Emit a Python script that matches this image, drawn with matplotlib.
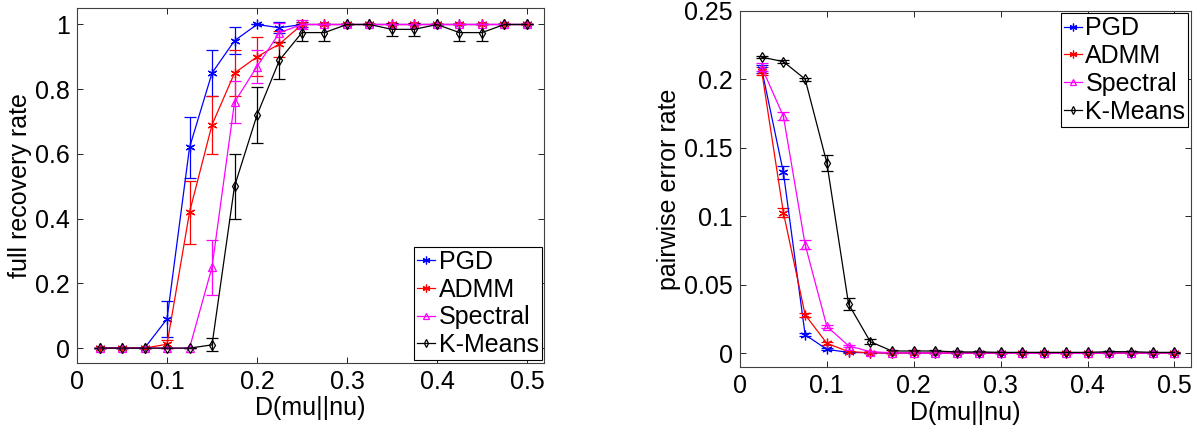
import matplotlib
matplotlib.use('Agg')
import matplotlib.pyplot as plt
from matplotlib.ticker import FuncFormatter

plt.rcParams['font.family'] = ['Liberation Sans', 'DejaVu Sans']

# distance values (x axis)
dist = [0.025, 0.05, 0.075, 0.1, 0.125, 0.15, 0.175, 0.2, 0.225, 0.25,
        0.275, 0.3, 0.325, 0.35, 0.375, 0.4, 0.425, 0.45, 0.475, 0.5]
methods = ['PGD', 'ADMM', 'Spectral', 'K-Means']

# full recovery rate (left)
rec_pgd = [0, 0, 0, 0.09, 0.62, 0.85, 0.95, 1.0, 0.99, 1, 1, 1, 1, 1, 1, 1, 1, 1, 1, 1]
rec_pgd_err = [0, 0, 0, 0.055, 0.095, 0.07, 0.042, 0, 0.017, 0.008, 0, 0, 0, 0, 0, 0, 0, 0, 0, 0]
rec_admm = [0, 0, 0, 0.012, 0.42, 0.69, 0.85, 0.90, 0.94, 1, 1, 1, 1, 1, 1, 1, 1, 1, 1, 1]
rec_admm_err = [0, 0, 0, 0.012, 0.097, 0.09, 0.07, 0.06, 0.04, 0, 0, 0, 0, 0, 0, 0, 0, 0, 0, 0]
rec_spec = [0, 0, 0, 0, 0, 0.25, 0.76, 0.87, 0.975, 1, 1, 1, 1, 1, 1, 1, 1, 1, 1, 1]
rec_spec_err = [0, 0, 0, 0, 0, 0.085, 0.065, 0.05, 0.03, 0.015, 0, 0, 0, 0, 0, 0, 0, 0, 0, 0]
rec_km = [0, 0, 0, 0, 0, 0.01, 0.50, 0.72, 0.89, 0.975, 0.975, 1, 1, 0.985, 0.985, 1, 0.975, 0.975, 1, 1]
rec_km_err = [0, 0, 0, 0, 0, 0.02, 0.1, 0.087, 0.057, 0.026, 0.026, 0, 0, 0.02, 0.02, 0, 0.025, 0.025, 0, 0]

# pairwise error rate (right)
err_pgd = [0.2075, 0.132, 0.0134, 0.0027, 0.0005, 0.0002, 0, 0, 0, 0, 0, 0, 0, 0, 0, 0, 0, 0, 0, 0]
err_pgd_err = [0.003, 0.005, 0.0012, 0.0008, 0.0003, 0, 0, 0, 0, 0, 0, 0, 0, 0, 0, 0, 0, 0, 0, 0]
err_admm = [0.206, 0.1027, 0.028, 0.0071, 0.001, 0.0002, 0, 0, 0, 0, 0, 0, 0, 0, 0, 0, 0, 0, 0, 0]
err_admm_err = [0.003, 0.003, 0.0015, 0.001, 0.0003, 0, 0, 0, 0, 0, 0, 0, 0, 0, 0, 0, 0, 0, 0, 0]
err_spec = [0.209, 0.173, 0.0793, 0.0195, 0.0053, 0.001, 0.0002, 0, 0, 0, 0, 0, 0, 0, 0, 0, 0, 0, 0, 0]
err_spec_err = [0.003, 0.003, 0.003, 0.0012, 0.0008, 0.0004, 0, 0, 0, 0, 0, 0, 0, 0, 0, 0, 0, 0, 0, 0]
err_km = [0.2163, 0.213, 0.2002, 0.139, 0.0358, 0.0083, 0.0015, 0.0015, 0.0015, 0.0008, 0.0008, 0.0005,
          0.0005, 0.0005, 0.0005, 0.0005, 0.001, 0.001, 0.0005, 0.0005]
err_km_err = [0.001, 0.001, 0.001, 0.0057, 0.0045, 0.002, 0.0008, 0.0008, 0.0008, 0.0005, 0.0005, 0.0003,
              0.0003, 0.0003, 0.0003, 0.0003, 0.0005, 0.0005, 0.0003, 0.0003]

colors = ['#0000ff', '#ff0000', '#ff00ff', '#000000']
markers = [(6, 2, 0), (6, 2, 0), '^', 'd']  # asterisk like matlab '*'
msizes = [7, 7, 6, 5]
fsize = 18

fig = plt.figure(figsize=(12.02, 4.33), dpi=100)
ax1 = fig.add_axes([0.0641, 0.1624, 0.3885, 0.8184])
ax2 = fig.add_axes([0.6156, 0.1524, 0.3752, 0.8222])

def draw(ax, series, errs):
    handles = []
    for i in range(4):
        c = ax.errorbar(dist, series[i], yerr=errs[i], color=colors[i], marker=markers[i],
                        markersize=msizes[i], markerfacecolor='none',
                        markeredgewidth=0.9, linewidth=0.9, elinewidth=0.9, capsize=4,
                        capthick=0.9, label=methods[i])
        handles.append(c.lines[0])
    return handles

h1 = draw(ax1, [rec_pgd, rec_admm, rec_spec, rec_km],
          [rec_pgd_err, rec_admm_err, rec_spec_err, rec_km_err])
h2 = draw(ax2, [err_pgd, err_admm, err_spec, err_km],
          [err_pgd_err, err_admm_err, err_spec_err, err_km_err])

fmt = FuncFormatter(lambda v, p: '%g' % round(v, 3))
for ax in [ax1, ax2]:
    ax.set_xlim(0, 0.519)
    ax.set_xticks([0, 0.1, 0.2, 0.3, 0.4, 0.5])
    ax.xaxis.set_major_formatter(fmt)
    ax.yaxis.set_major_formatter(fmt)
    ax.tick_params(direction='in', top=True, right=True, labelsize=fsize, length=4, width=0.6, pad=5)
    for s in ax.spines.values():
        s.set_linewidth(0.8)
        s.set_color('#404040')
    ax.set_xlabel('D(mu||nu)', fontsize=fsize, labelpad=2)

ax1.set_ylim(-0.045, 1.05)
ax1.set_yticks([0, 0.2, 0.4, 0.6, 0.8, 1])
ax1.set_ylabel('full recovery rate', fontsize=fsize, labelpad=2)
ax2.set_ylim(-0.0102, 0.25)
ax2.set_yticks([0, 0.05, 0.1, 0.15, 0.2, 0.25])
ax2.set_ylabel('pairwise error rate', fontsize=fsize, labelpad=2)

for ax, hs, loc in [(ax1, h1, 'lower right'), (ax2, h2, 'upper right')]:
    leg = ax.legend(hs, methods, loc=loc, fontsize=fsize, handlelength=0.7, handletextpad=0.15,
                    labelspacing=0.15, borderpad=0.12, borderaxespad=0.1, markerscale=0.8,
                    fancybox=False, framealpha=1)
    leg.get_frame().set_edgecolor('#000000')
    leg.get_frame().set_linewidth(0.8)

plt.savefig('out.png', dpi=100)
